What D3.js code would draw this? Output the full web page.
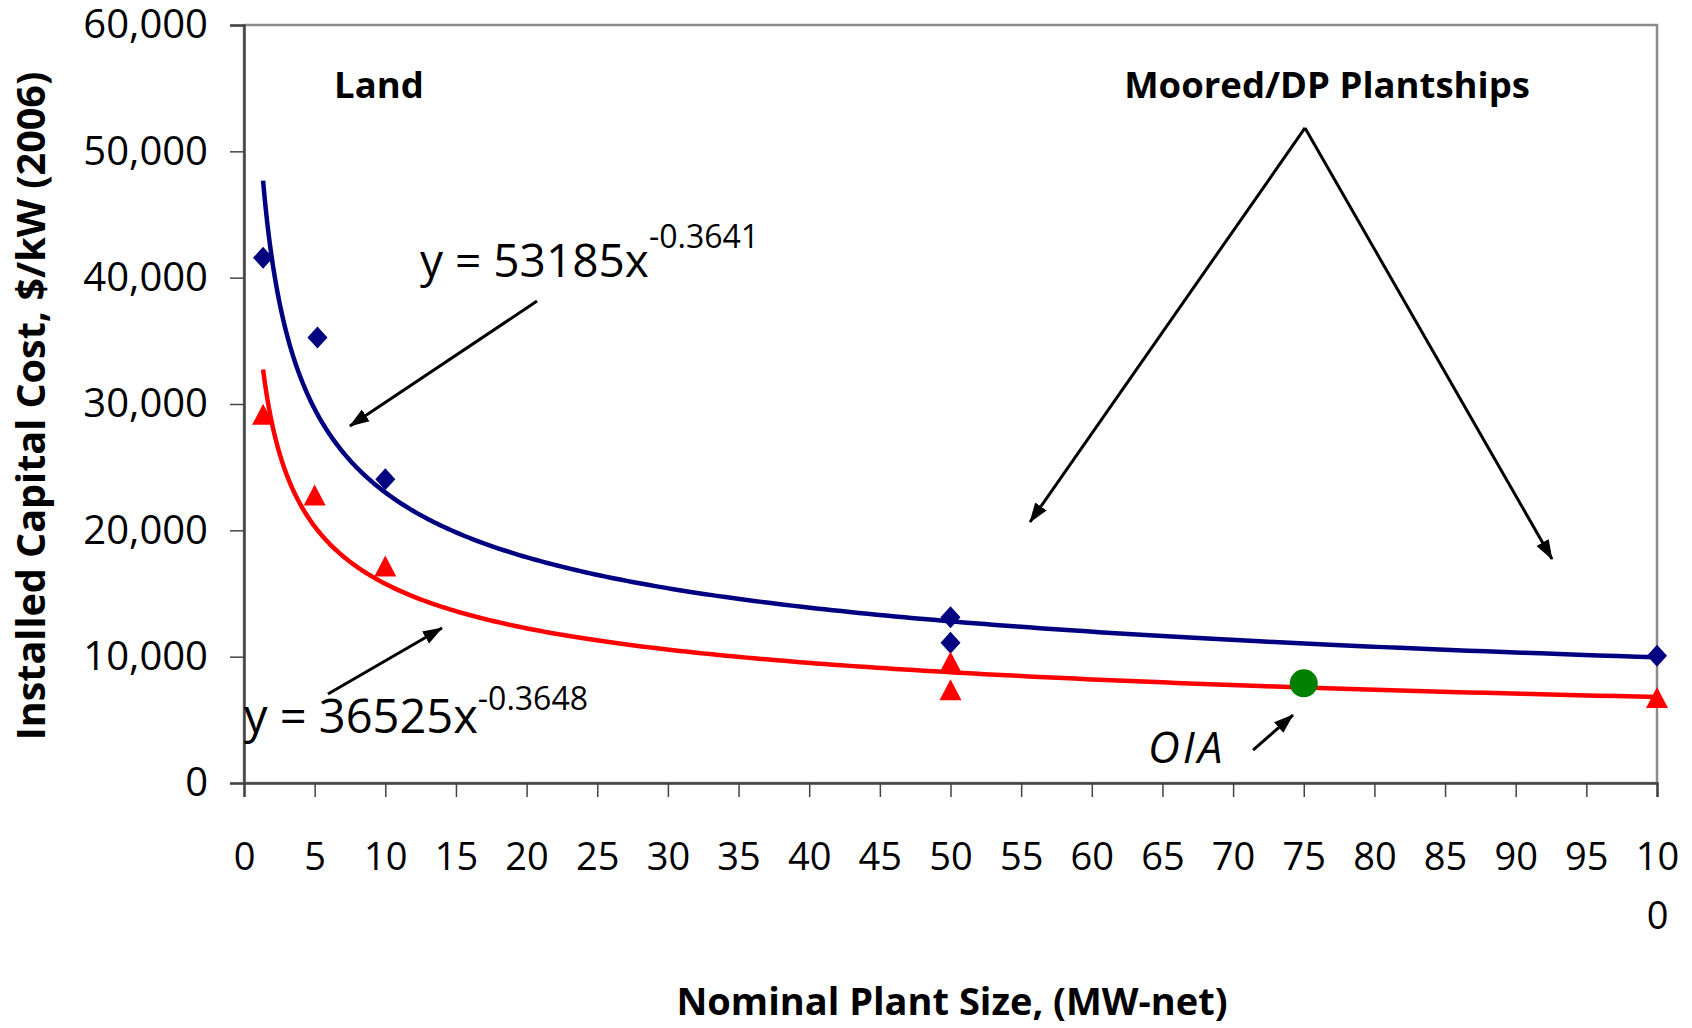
<!DOCTYPE html>
<html>
<head>
<meta charset="utf-8">
<script src="https://cdn.jsdelivr.net/npm/d3@7"></script>
<style>
  body { margin: 0; background: #fff; }
  svg { display: block; }
  text { font-family: "Comic Sans MS", "Open Sans", sans-serif; fill: #000; }
</style>
</head>
<body>
<div id="chart"></div>
<script>
// plant size (MW-net) vs installed cost ($/kW, 2006)
const blueSize = [1.35, 5.2, 10, 50, 50, 100];
const blueCost = [41570, 35260, 24050, 13120, 11110, 10080];
const redSize = [1.35, 5, 10, 50, 50, 100];
const redCost = [29140, 22760, 17130, 9540, 7340, 6730];
const oiaSize = [75];
const oiaCost = [7890];

// power trendlines as printed on the chart
const fitCoef = [53185, 36525];
const fitExp = [-0.3641, -0.3648];
const fitRange = [1.35, 100];

const xTicks = d3.range(0, 101, 5);
const yTicks = d3.range(0, 60001, 10000);

// annotations, in data units
const noteText = ["Land", "Moored/DP Plantships"];
const noteX = [9.55, 76.65];
const noteY = [54200, 54200];
const eqText = ["y = 53185x", "y = 36525x"];
const eqSup = ["-0.3641", "-0.3648"];
const eqX = [12.46, 0];
const eqY = [40050, 3960];
const arrowFrom = [[20.74, 38150], [5.94, 7050], [71.41, 2610], [75.09, 51850], [75.09, 51850]];
const arrowTo = [[7.5, 28260], [14.01, 12270], [74.24, 5380], [55.63, 20660], [92.57, 17730]];

const width = 1692, height = 1028;
const margin = { left: 244, top: 25, right: 35, bottom: 245 };

const x = d3.scaleLinear().domain([0, 100]).range([margin.left, width - margin.right]);
const y = d3.scaleLinear().domain([0, 60000]).range([height - margin.bottom, margin.top]);

const svg = d3.select("#chart").append("svg")
  .attr("width", width)
  .attr("height", height)
  .attr("viewBox", [0, 0, width, height]);

svg.append("defs").append("marker")
  .attr("id", "head")
  .attr("markerUnits", "userSpaceOnUse")
  .attr("viewBox", "0 -8 20 16")
  .attr("refX", 19)
  .attr("refY", 0)
  .attr("markerWidth", 20)
  .attr("markerHeight", 16)
  .attr("orient", "auto")
  .append("path")
  .attr("d", "M0,-7L20,0L0,7Z")
  .attr("fill", "#000");

// plot area frame
svg.append("rect")
  .attr("x", x(0))
  .attr("y", y(60000))
  .attr("width", x(100) - x(0))
  .attr("height", y(0) - y(60000))
  .attr("fill", "none")
  .attr("stroke", "#8c8c8c")
  .attr("stroke-width", 2.5);

// axes
const xAxis = svg.append("g")
  .attr("transform", `translate(0,${y(0)})`)
  .call(d3.axisBottom(x).tickValues(xTicks).tickSize(14).tickPadding(46).tickFormat(d3.format("d")));

const yAxis = svg.append("g")
  .attr("transform", `translate(${x(0)},0)`)
  .call(d3.axisLeft(y).tickValues(yTicks).tickSize(14).tickPadding(22).tickFormat(d3.format(",")));

[xAxis, yAxis].forEach((g) => {
  g.select(".domain").attr("stroke", "#444").attr("stroke-width", 2.5);
  g.selectAll(".tick line").attr("stroke", "#444").attr("stroke-width", 1.5);
  g.selectAll(".tick text")
    .style("font-family", '"Comic Sans MS", "Open Sans", sans-serif')
    .attr("fill", "#000");
});
xAxis.selectAll(".tick text").style("font-size", "38px");
yAxis.selectAll(".tick text").style("font-size", "40px");

// "100" wraps onto two lines, as in the original
xAxis.selectAll(".tick text")
  .filter((d) => d === 100)
  .text(null)
  .each(function () {
    const t = d3.select(this);
    t.append("tspan").attr("x", 0).text("10");
    t.append("tspan").attr("x", 0).attr("dy", "1.55em").text("0");
  });

// axis titles
svg.append("text")
  .attr("transform", `translate(45,${(y(0) + y(60000)) / 2 + 2}) rotate(-90)`)
  .attr("text-anchor", "middle")
  .style("font-size", "39.5px")
  .style("font-weight", "bold")
  .text("Installed Capital Cost,  $/kW  (2006)");

svg.append("text")
  .attr("x", 952)
  .attr("y", 1015)
  .attr("text-anchor", "middle")
  .style("font-size", "38px")
  .style("font-weight", "bold")
  .text("Nominal Plant Size, (MW-net)");

// trendlines
const line = d3.line().x((d) => x(d[0])).y((d) => y(d[1]));
const fitColor = ["#000080", "#ff0000"];
fitCoef.forEach((a, i) => {
  const pts = d3.range(0, 301).map((k) => {
    const xv = fitRange[0] * Math.pow(fitRange[1] / fitRange[0], k / 300);
    return [xv, a * Math.pow(xv, fitExp[i])];
  });
  svg.append("path")
    .attr("d", line(pts))
    .attr("fill", "none")
    .attr("stroke", fitColor[i])
    .attr("stroke-width", 4.5);
});

// markers
svg.append("g")
  .selectAll("path")
  .data(d3.zip(blueSize, blueCost))
  .join("path")
  .attr("transform", (d) => `translate(${x(d[0])},${y(d[1])})`)
  .attr("d", "M0,-11L10,0L0,11L-10,0Z")
  .attr("fill", "#000080");

svg.append("g")
  .selectAll("path")
  .data(d3.zip(redSize, redCost))
  .join("path")
  .attr("transform", (d) => `translate(${x(d[0])},${y(d[1])})`)
  .attr("d", "M0,-11L11,10L-11,10Z")
  .attr("fill", "#ff0000");

svg.append("g")
  .selectAll("circle")
  .data(d3.zip(oiaSize, oiaCost))
  .join("circle")
  .attr("cx", (d) => x(d[0]))
  .attr("cy", (d) => y(d[1]))
  .attr("r", 14)
  .attr("fill", "#008000");

// arrows
svg.append("g")
  .selectAll("line")
  .data(d3.zip(arrowFrom, arrowTo))
  .join("line")
  .attr("x1", (d) => x(d[0][0]))
  .attr("y1", (d) => y(d[0][1]))
  .attr("x2", (d) => x(d[1][0]))
  .attr("y2", (d) => y(d[1][1]))
  .attr("stroke", "#000")
  .attr("stroke-width", 3)
  .attr("marker-end", "url(#head)");

// text notes
svg.append("g")
  .selectAll("text")
  .data(noteText)
  .join("text")
  .attr("x", (d, i) => x(noteX[i]))
  .attr("y", (d, i) => y(noteY[i]))
  .attr("text-anchor", "middle")
  .style("font-size", "36.5px")
  .style("font-weight", "bold")
  .text((d) => d);

const eqSize = [46, 47];
const supSize = [32, 32];
const supRise = [29, 23];
const eq = svg.append("g")
  .selectAll("text")
  .data(eqText)
  .join("text")
  .attr("x", (d, i) => x(eqX[i]))
  .attr("y", (d, i) => y(eqY[i]))
  .style("font-size", (d, i) => `${eqSize[i]}px`);
eq.append("tspan").text((d) => d);
eq.append("tspan")
  .attr("dy", (d, i) => -supRise[i])
  .style("font-size", (d, i) => `${supSize[i]}px`)
  .text((d, i) => eqSup[i]);

svg.append("text")
  .attr("x", x(63.98))
  .attr("y", y(1580))
  .style("font-size", "44px")
  .style("font-style", "italic")
  .style("letter-spacing", "3px")
  .text("OIA");
</script>
</body>
</html>
